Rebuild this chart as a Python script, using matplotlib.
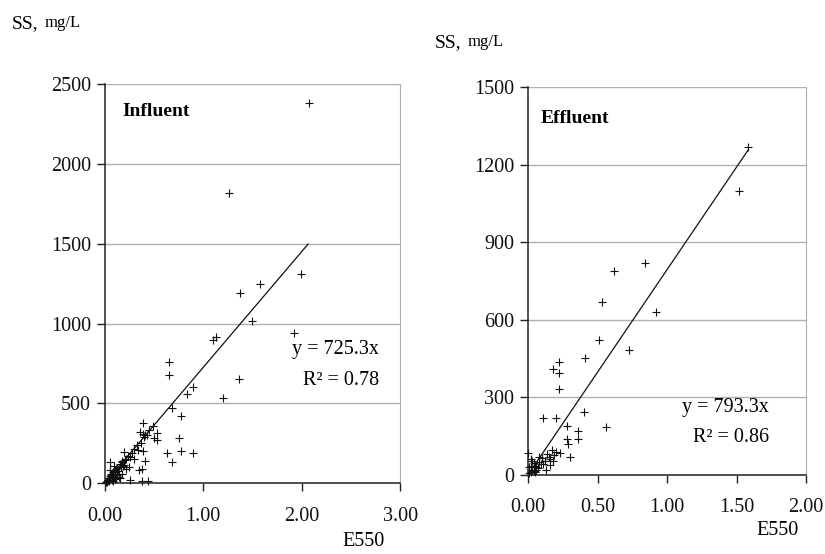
import numpy as np
import matplotlib.pyplot as plt

plt.rcParams['font.family'] = ['Liberation Serif', 'DejaVu Serif']

# influent samples: absorbance at 550 nm vs suspended solids
inf_e550 = [2.07, 1.26, 1.58, 1.37, 1.99, 1.50, 1.92, 1.13, 1.10, 1.36, 1.20,
            0.65, 0.65, 0.90, 0.84, 0.68, 0.77, 0.49, 0.39, 0.39, 0.41, 0.43,
            0.53, 0.50, 0.53, 0.75, 0.37, 0.20, 0.28, 0.39, 0.63, 0.77, 0.90,
            0.68, 0.05, 0.41, 0.35, 0.38, 0.21, 0.20, 0.26, 0.38, 0.44, 0.26,
            0.33, 0.30, 0.24, 0.22, 0.18, 0.15, 0.16, 0.12, 0.10, 0.14, 0.17,
            0.19, 0.08, 0.06, 0.09, 0.11, 0.04, 0.03, 0.02, 0.05, 0.07, 0.13,
            0.15, 0.10, 0.08, 0.12, 0.06, 0.04, 0.02, 0.01, 0.03, 0.09, 0.18,
            0.22, 0.25, 0.30, 0.34, 0.14, 0.11, 0.07, 0.05, 0.36, 0.40, 0.45]
inf_ss = [2380, 1817, 1247, 1190, 1310, 1015, 940, 915, 895, 652, 533,
          761, 677, 602, 558, 470, 420, 357, 376, 307, 300, 300,
          313, 282, 270, 282, 250, 194, 188, 200, 188, 200, 188,
          131, 131, 138, 81, 88, 144, 113, 163, 12, 12, 19,
          240, 215, 170, 150, 130, 120, 100, 95, 80, 60, 140,
          110, 70, 50, 40, 90, 30, 20, 10, 45, 55, 75,
          35, 25, 15, 50, 60, 10, 5, 8, 20, 105, 60,
          90, 100, 150, 210, 40, 30, 20, 85, 320, 290, 330]

# effluent samples
eff_e550 = [1.58, 1.52, 0.84, 0.62, 0.53, 0.92, 0.51, 0.73, 0.41, 0.22,
            0.18, 0.22, 0.22, 0.11, 0.20, 0.40, 0.28, 0.56, 0.36, 0.36,
            0.28, 0.29, 0.30, 0.23, 0.17, 0.19, 0.20, 0.16, 0.15, 0.18,
            0.13, 0.16, 0.11, 0.00, 0.02, 0.04, 0.06, 0.08, 0.10, 0.03,
            0.05, 0.07, 0.01, 0.02, 0.04, 0.09, 0.12, 0.06, 0.03, 0.01,
            0.05, 0.08, 0.02, 0.14]
eff_ss = [1266, 1097, 819, 789, 668, 631, 523, 481, 450, 436,
          409, 394, 331, 218, 221, 242, 190, 183, 170, 139,
          139, 118, 69, 83, 95, 75, 88, 60, 70, 55,
          19, 38, 40, 83, 60, 45, 30, 50, 65, 20,
          10, 25, 5, 35, 15, 40, 55, 20, 55, 30,
          35, 70, 10, 80]

inf_slope, inf_r2 = 725.3, 0.78
eff_slope, eff_r2 = 793.3, 0.86

fig = plt.figure(figsize=(8.25, 5.54), dpi=100)
ax1 = fig.add_axes([0.127, 0.128, 0.358, 0.720])
ax2 = fig.add_axes([0.640, 0.143, 0.337, 0.700])


def style(ax, ymax, ystep, xmax, xstep):
    ax.set_xlim(0, xmax)
    ax.set_ylim(0, ymax)
    ax.set_yticks(np.arange(0, ymax + 1, ystep))
    ax.set_xticks(np.arange(0, xmax + 0.001, xstep))
    ax.xaxis.set_major_formatter(plt.FormatStrFormatter('%.2f'))
    ax.grid(axis='y', color='#b0b0b0', lw=1)
    ax.set_axisbelow(True)
    ax.spines['top'].set_visible(False)
    ax.spines['right'].set_color('#b0b0b0')
    for s in ('left', 'bottom'):
        ax.spines[s].set_color('#222222')
        ax.spines[s].set_linewidth(1.1)
    ax.tick_params(labelsize=14.5, length=6, width=1, colors='#222222',
                   labelcolor='#111111')
    ax.tick_params(axis='x', pad=11)
    ax.tick_params(axis='y', pad=4)


style(ax1, 2500, 500, 3.0, 1.0)
style(ax2, 1500, 300, 2.0, 0.5)

ax1.scatter(inf_e550, inf_ss, marker='+', s=30, c='#111111', lw=0.8, clip_on=False, zorder=3)
ax2.scatter(eff_e550, eff_ss, marker='+', s=30, c='#111111', lw=0.8, clip_on=False, zorder=3)

xf1 = np.array([0, 2.065])
ax1.plot(xf1, inf_slope * xf1, color='#111111', lw=0.9)
xf2 = np.array([0, 1.585])
ax2.plot(xf2, eff_slope * xf2, color='#111111', lw=0.9)

ax1.text(0.061, 0.932, 'Influent', transform=ax1.transAxes, fontsize=14,
         fontweight='bold', va='center')
ax2.text(0.047, 0.92, 'Effluent', transform=ax2.transAxes, fontsize=14,
         fontweight='bold', va='center')

ax1.text(0.78, 0.335, f'y = {inf_slope}x', transform=ax1.transAxes, fontsize=14.5, ha='center', va='center')
ax1.text(0.80, 0.258, f'R² = {inf_r2}', transform=ax1.transAxes, fontsize=14.5, ha='center', va='center')
ax2.text(0.71, 0.174, f'y = {eff_slope}x', transform=ax2.transAxes, fontsize=14.5, ha='center', va='center')
ax2.text(0.73, 0.096, f'R² = {eff_r2}', transform=ax2.transAxes, fontsize=14.5, ha='center', va='center')

# axis titles
fig.text(0.014, 0.958, 'SS,', fontsize=14, va='center')
fig.text(0.054, 0.958, 'mg/L', fontsize=12, va='center')
fig.text(0.527, 0.924, 'SS,', fontsize=14, va='center')
fig.text(0.567, 0.924, 'mg/L', fontsize=12, va='center')
fig.text(0.441, 0.022, 'E550', fontsize=14.5, ha='center', va='center')
fig.text(0.942, 0.042, 'E550', fontsize=14.5, ha='center', va='center')

fig.savefig('out.png', dpi=100)
